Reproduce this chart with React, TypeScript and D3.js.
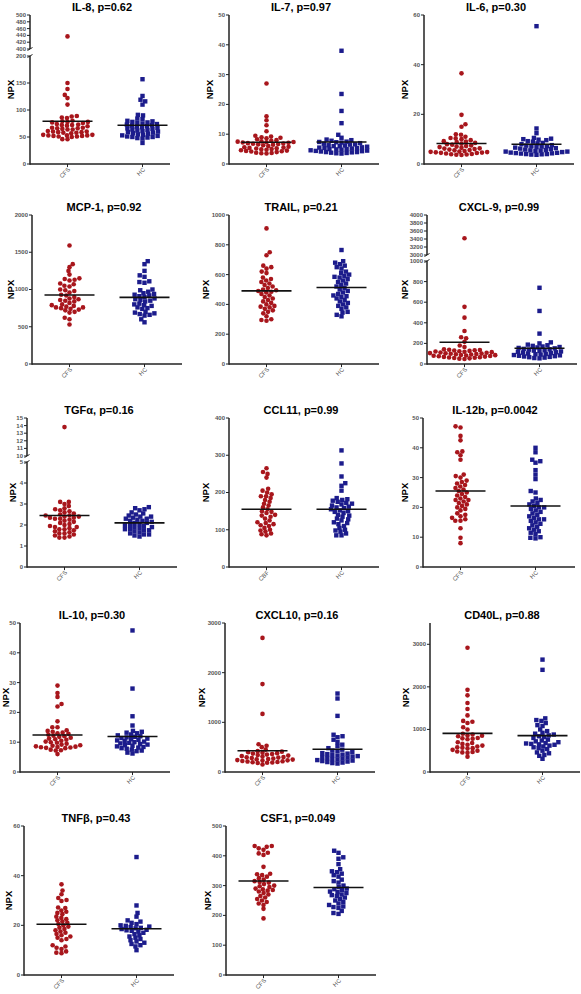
import React from 'react';
import * as d3 from 'd3';

const groups = ['CFS', 'HC'];

// ---- data (NPX values) ----
const il8CFS = [437, 150, 139, 128, 122, 110, 89, 88, 86, 85, 80, 79, 78, 78, 77, 76, 74, 73, 72, 72, 71, 70, 67, 67, 66, 66, 65, 64, 64, 61, 60, 60, 59, 59, 58, 58, 57, 54, 54, 53, 53, 53, 52, 52, 51, 51, 50, 46, 46];
const il8HC = [157, 126, 119, 116, 110, 91, 90, 84, 83, 80, 79, 78, 77, 76, 75, 74, 73, 72, 71, 70, 69, 68, 67, 66, 65, 64, 63, 62, 61, 60, 59, 58, 57, 56, 55, 54, 53, 52, 51, 50, 50, 49, 48, 47, 39];
const il7CFS = [27, 16, 14.7, 13, 11, 9.5, 9.2, 9, 8.8, 8.6, 8.3, 8, 7.8, 7.6, 7.5, 7.4, 7.3, 7.2, 7.1, 7, 6.9, 6.8, 6.7, 6.6, 6.5, 6.3, 6.0, 5.8, 5.6, 5.5, 5.4, 5.3, 5.2, 5.0, 4.9, 4.8, 4.6, 4.5, 4.4, 4.3, 4.2, 4.0, 3.8, 3.7, 3.6, 3.5];
const il7HC = [38, 23.5, 17.8, 13.7, 9.8, 8.8, 8.2, 8, 7.8, 7.5, 7.4, 7.3, 7.2, 7, 6.8, 6.6, 6.5, 6.3, 6.2, 6, 6, 5.8, 5.6, 5.5, 5.4, 5.3, 5.2, 5, 5, 4.9, 4.8, 4.6, 4.5, 4.4, 4.3, 4.2, 4, 4, 3.9, 3.8, 3.7, 3.6, 3.5];
const il6CFS = [36.5, 19.8, 16, 15, 12, 11.8, 11, 10.5, 10.3, 10, 9.6, 9.2, 9, 8.8, 8.5, 8.2, 8, 7.8, 7.5, 7.2, 7, 6.8, 6.5, 6.3, 6.2, 6, 5.8, 5.6, 5.5, 5.2, 5, 4.9, 4.8, 4.7, 4.6, 4.5, 4.4, 4.2, 4, 3.9, 3.8, 3.7, 3.6];
const il6HC = [55.5, 14.3, 12.4, 10.5, 10.2, 10, 9.8, 9.6, 9.2, 9, 8.5, 8.3, 8, 7.6, 7.4, 7.2, 7.1, 7, 6.8, 6.6, 6.4, 6.2, 6, 5.8, 5.6, 5.5, 5.4, 5.2, 5, 5, 4.8, 4.6, 4.5, 4.4, 4.3, 4.2, 4, 4, 3.9, 3.8, 3.7];
const mcp1CFS = [1590, 1340, 1300, 1250, 1200, 1150, 1140, 1130, 1120, 1080, 1070, 1050, 1040, 1000, 990, 980, 960, 930, 920, 900, 880, 870, 860, 850, 840, 820, 800, 790, 780, 770, 760, 760, 750, 740, 730, 720, 700, 690, 620, 600, 530];
const mcp1HC = [1380, 1340, 1250, 1190, 1170, 1110, 1100, 1090, 1000, 990, 970, 950, 940, 930, 920, 910, 900, 880, 870, 860, 850, 840, 810, 800, 790, 780, 760, 750, 740, 700, 690, 680, 670, 660, 650, 600, 560];
const trailCFS = [910, 750, 730, 660, 650, 640, 620, 610, 580, 570, 560, 550, 540, 530, 520, 510, 500, 495, 490, 485, 480, 470, 460, 450, 440, 430, 420, 410, 400, 390, 385, 380, 370, 360, 350, 340, 320, 300, 295, 290];
const trailHC = [765, 690, 680, 670, 660, 650, 640, 620, 610, 600, 590, 585, 580, 570, 560, 550, 540, 530, 520, 510, 500, 490, 480, 470, 460, 455, 450, 440, 430, 420, 410, 400, 390, 380, 370, 350, 345, 330, 320];
const cxcl9CFS = [3420, 555, 450, 320, 260, 250, 215, 180, 165, 142, 138, 136, 133, 131, 127, 124, 122, 118, 115, 112, 109, 106, 104, 101, 99, 97, 95, 92, 88, 86, 83, 80, 78, 75, 72, 69, 66, 63, 61, 58, 55, 52, 48];
const cxcl9HC = [740, 515, 295, 210, 200, 188, 182, 176, 170, 165, 161, 156, 152, 147, 143, 139, 134, 130, 127, 122, 118, 114, 110, 106, 102, 98, 95, 91, 87, 84, 80, 76, 73, 69, 66, 62, 58, 55];
const tgfaCFS = [13.8, 3.1, 3.1, 3.0, 2.9, 2.8, 2.75, 2.7, 2.65, 2.6, 2.55, 2.5, 2.45, 2.45, 2.4, 2.4, 2.35, 2.35, 2.3, 2.3, 2.25, 2.2, 2.15, 2.1, 2.05, 2.0, 1.95, 1.9, 1.9, 1.85, 1.8, 1.8, 1.75, 1.7, 1.65, 1.6, 1.6, 1.55, 1.5, 1.45, 1.4, 1.4];
const tgfaHC = [2.85, 2.8, 2.75, 2.7, 2.6, 2.55, 2.5, 2.45, 2.4, 2.4, 2.35, 2.3, 2.3, 2.25, 2.2, 2.2, 2.15, 2.1, 2.1, 2.05, 2.0, 2.0, 1.95, 1.9, 1.9, 1.85, 1.8, 1.8, 1.75, 1.75, 1.7, 1.65, 1.6, 1.55, 1.55, 1.5, 1.45];
const ccl11CFS = [265, 255, 250, 240, 210, 205, 200, 195, 190, 190, 185, 180, 175, 170, 165, 160, 155, 150, 148, 145, 140, 138, 135, 130, 125, 120, 118, 115, 112, 110, 105, 100, 98, 95, 90, 88, 85];
const ccl11HC = [313, 278, 243, 225, 218, 205, 185, 182, 180, 178, 175, 172, 170, 168, 165, 162, 160, 158, 155, 152, 150, 148, 145, 140, 138, 135, 130, 128, 125, 120, 118, 115, 110, 105, 100, 98, 95, 90, 85, 85];
const il12bCFS = [47.2, 46.8, 44, 42.5, 38.8, 38.5, 37.5, 36, 31, 30.5, 30, 29, 28.5, 28, 27.5, 27, 26.5, 26, 25.5, 25, 24.5, 24, 23.5, 23, 22.5, 22.5, 22, 21.5, 21, 20.5, 20, 19.5, 19, 18, 17.5, 17, 16.5, 16, 15.5, 15.5, 13, 9.8, 8];
const il12bHC = [40, 38.5, 36, 35.5, 35, 32.5, 31, 29.5, 25.5, 25, 23, 22.5, 22, 21.5, 21, 20.5, 20, 20, 19.5, 19, 18.5, 18, 17.5, 17, 16.5, 16, 16, 15.5, 15, 14.5, 14, 13.5, 13, 12.5, 12, 11.5, 11, 10, 9.8, 9.6];
const il10CFS = [29, 26.5, 25.2, 22.8, 22, 17, 15, 15, 14, 13.8, 13.5, 13.2, 13, 12.8, 12.5, 12.2, 12, 11.8, 11.5, 11.2, 11, 10.8, 10.5, 10.2, 10, 9.8, 9.5, 9.2, 9, 8.8, 8.6, 8.5, 8.4, 8.3, 8.2, 8.1, 8, 7.5, 7.3, 7.2, 6];
const il10HC = [47.5, 28, 18.7, 15.6, 13.8, 13.5, 13.2, 13, 12.6, 12.3, 12, 11.8, 11.6, 11.4, 11.2, 11, 10.8, 10.6, 10.4, 10.2, 10, 9.8, 9.6, 9.4, 9.2, 9, 8.8, 8.6, 8.4, 8.2, 8, 7.8, 7.5, 7.2, 7, 6.5, 6.2];
const cxcl10CFS = [2700, 1770, 1170, 560, 530, 500, 450, 420, 410, 400, 390, 380, 370, 360, 350, 340, 330, 320, 310, 300, 295, 290, 280, 270, 260, 255, 250, 240, 235, 230, 220, 215, 210, 200, 195, 190, 185, 180, 150];
const cxcl10HC = [1580, 1480, 1130, 750, 720, 700, 650, 600, 550, 520, 480, 450, 430, 420, 400, 380, 370, 360, 350, 340, 330, 320, 310, 300, 290, 280, 270, 260, 250, 240, 230, 220, 210, 200, 190, 180, 170];
const cd40lCFS = [2920, 1930, 1800, 1620, 1480, 1330, 1200, 1180, 1150, 1050, 1000, 900, 880, 860, 850, 840, 800, 790, 780, 770, 700, 680, 660, 640, 620, 600, 580, 570, 560, 550, 520, 500, 480, 470, 460, 450, 360];
const cd40lHC = [2640, 2400, 1260, 1220, 1200, 1150, 1100, 1080, 1000, 960, 920, 900, 880, 860, 840, 820, 800, 760, 740, 720, 700, 680, 670, 660, 650, 640, 620, 600, 580, 560, 540, 500, 460, 440, 400, 380, 310];
const tnfbCFS = [36.5, 34, 32.5, 31, 30.2, 29.8, 27.2, 27, 26, 25.5, 25, 24.5, 23.5, 23, 22.5, 22, 21.5, 21, 20.5, 20, 19.5, 19, 18.5, 18, 17.5, 17, 16.5, 16, 15.5, 15, 14.5, 14, 12, 11.5, 11, 10.5, 9.5, 9, 8.8];
const tnfbHC = [47.5, 28, 25, 23.5, 22, 21.5, 21, 20.5, 20, 19.8, 19.5, 19.3, 19, 18.8, 18.5, 18.2, 18, 17.8, 17.5, 17, 16.5, 16, 15.5, 15, 14.5, 14, 13.5, 13, 12.5, 12, 11.5, 10];
const csf1CFS = [433, 433, 430, 425, 420, 410, 408, 403, 363, 340, 338, 335, 330, 325, 320, 315, 312, 310, 305, 300, 298, 295, 290, 288, 285, 283, 280, 275, 270, 265, 260, 255, 250, 245, 240, 235, 222, 190];
const csf1HC = [417, 410, 395, 390, 372, 355, 348, 345, 340, 335, 330, 320, 315, 310, 300, 295, 290, 288, 285, 280, 278, 275, 270, 268, 265, 260, 255, 250, 245, 240, 235, 230, 228, 225, 215, 208, 205];

// ---- tick values ----
const t0_200 = [0, 50, 100, 150, 200];
const t400_500 = [400, 420, 440, 460, 480, 500];
const t0_50 = [0, 10, 20, 30, 40, 50];
const t0_60 = [0, 20, 40, 60];
const t0_2000 = [0, 500, 1000, 1500, 2000];
const t0_1000 = [0, 200, 400, 600, 800, 1000];
const t3000_4000 = [3000, 3200, 3400, 3600, 3800, 4000];
const t0_5 = [0, 1, 2, 3, 4, 5];
const t10_15 = [10, 11, 12, 13, 14, 15];
const t0_400 = [0, 100, 200, 300, 400];
const t0_3000 = [0, 1000, 2000, 3000];
const t0_500 = [0, 100, 200, 300, 400, 500];

// ---- layout ----
const W = 581, HGT = 994;
const rowTops = [15, 215, 418, 623, 826];
const PH = 149;
const RED = '#a8161c';
const BLUE = '#1c1c8c';
const FONT = 'Liberation Sans, Arial, Helvetica, sans-serif';

type Seg = { domain: [number, number]; range: [number, number]; ticks: number[] };
type Panel = { title: string; cfs: number[]; hc: number[]; row: number; axisX: number; npxX: number; width: number; segs: Seg[]; xl?: string[] };

const full = (domain: [number, number], ticks: number[]): Seg[] => [{ domain, range: [PH, 0], ticks }];

const panels: Panel[] = [
  { title: 'IL-8, p=0.62', cfs: il8CFS, hc: il8HC, row: 0, axisX: 30, npxX: 14, width: 140,
    segs: [{ domain: [0, 200], range: [PH, 41], ticks: t0_200 }, { domain: [400, 500], range: [34, 0], ticks: t400_500 }] },
  { title: 'IL-7, p=0.97', cfs: il7CFS, hc: il7HC, row: 0, axisX: 229, npxX: 213, width: 150, segs: full([0, 50], t0_50) },
  { title: 'IL-6, p=0.30', cfs: il6CFS, hc: il6HC, row: 0, axisX: 424, npxX: 408, width: 150, segs: full([0, 60], t0_60) },
  { title: 'MCP-1, p=0.92', cfs: mcp1CFS, hc: mcp1HC, row: 1, axisX: 32, npxX: 14, width: 150, segs: full([0, 2000], t0_2000) },
  { title: 'TRAIL, p=0.21', cfs: trailCFS, hc: trailHC, row: 1, axisX: 229, npxX: 209, width: 150, segs: full([0, 1000], t0_1000) },
  { title: 'CXCL-9, p=0.99', cfs: cxcl9CFS, hc: cxcl9HC, row: 1, axisX: 427, npxX: 408, width: 150,
    segs: [{ domain: [0, 1000], range: [PH, 46], ticks: t0_1000 }, { domain: [3000, 4000], range: [40, 0], ticks: t3000_4000 }] },
  { title: 'TGFα, p=0.16', cfs: tgfaCFS, hc: tgfaHC, row: 2, axisX: 27, npxX: 16, width: 150,
    segs: [{ domain: [0, 5], range: [PH, 44], ticks: t0_5 }, { domain: [10, 15], range: [38, 0], ticks: t10_15 }] },
  { title: 'CCL11, p=0.99', cfs: ccl11CFS, hc: ccl11HC, row: 2, axisX: 229, npxX: 209, width: 150, segs: full([0, 400], t0_400), xl: ['CBF', 'HC'] },
  { title: 'IL-12b, p=0.0042', cfs: il12bCFS, hc: il12bHC, row: 2, axisX: 423, npxX: 408, width: 152, segs: full([0, 50], t0_50) },
  { title: 'IL-10, p=0.30', cfs: il10CFS, hc: il10HC, row: 3, axisX: 20, npxX: 9, width: 150, segs: full([0, 50], t0_50) },
  { title: 'CXCL10, p=0.16', cfs: cxcl10CFS, hc: cxcl10HC, row: 3, axisX: 225, npxX: 205, width: 150, segs: full([0, 3000], t0_3000) },
  { title: 'CD40L, p=0.88', cfs: cd40lCFS, hc: cd40lHC, row: 3, axisX: 430, npxX: 409, width: 150, segs: full([0, 3500], t0_3000) },
  { title: 'TNFβ, p=0.43', cfs: tnfbCFS, hc: tnfbHC, row: 4, axisX: 24, npxX: 12, width: 150, segs: full([0, 60], t0_60) },
  { title: 'CSF1, p=0.049', cfs: csf1CFS, hc: csf1HC, row: 4, axisX: 226, npxX: 211, width: 150, segs: full([0, 500], t0_500) },
];

function makeY(segs: Seg[], top: number) {
  const scales = segs.map(s => ({ s, sc: d3.scaleLinear().domain(s.domain).range([top + s.range[0], top + s.range[1]]) }));
  return (v: number) => {
    const hit = scales.find(o => v >= o.s.domain[0] && v <= o.s.domain[1]) || scales[0];
    return hit.sc(v);
  };
}

// collision-based beeswarm with an elliptical footprint (wider than tall),
// so points spread into GraphPad-like staggered rows
function swarm(vals: number[], y: (v: number) => number, cx: number, rx = 5.2, ry = 3.8) {
  const pts = vals.map(v => ({ v, py: y(v), ox: 0 })).sort((a, b) => b.py - a.py);
  const placed: { v: number; py: number; ox: number }[] = [];
  let flip = false;
  for (const p of pts) {
    const blocked: [number, number][] = [];
    for (const q of placed) {
      const dy = Math.abs(q.py - p.py);
      if (dy < ry) {
        const w = rx * Math.sqrt(1 - (dy / ry) * (dy / ry));
        blocked.push([q.ox - w, q.ox + w]);
      }
    }
    const cands = [0];
    blocked.forEach(([a, b]) => cands.push(a, b));
    const ok = cands.filter(c => blocked.every(([a, b]) => c <= a + 1e-6 || c >= b - 1e-6));
    ok.sort((a, b) => {
      const diff = Math.abs(a) - Math.abs(b);
      if (Math.abs(diff) > 0.05) return diff;
      return flip ? b - a : a - b;
    });
    p.ox = ok[0];
    if (Math.abs(p.ox) > 0.05) flip = !flip;
    placed.push(p);
  }
  return placed.map(p => ({ ...p, px: cx + p.ox }));
}

function PanelView({ p }: { p: Panel }) {
  const top = rowTops[p.row];
  const bottom = top + PH;
  const y = makeY(p.segs, top);
  const ax = p.axisX;
  const xs = d3.scalePoint<string>().domain(groups).range([ax + 37.5, ax + 112.5]);
  const labels = p.xl || groups;
  const series = [p.cfs, p.hc];
  return (
    <g>
      <text x={ax + 72} y={top - 4} textAnchor="middle" fontFamily={FONT} fontWeight="bold" fontSize={11}>{p.title}</text>
      <text transform={`translate(${p.npxX},${top + PH / 2}) rotate(-90)`} textAnchor="middle" fontFamily={FONT} fontWeight="bold" fontSize={9.5}>NPX</text>
      {p.segs.map((s, si) => {
        const sc = d3.scaleLinear().domain(s.domain).range([top + s.range[0], top + s.range[1]]);
        const y0 = top + s.range[0], y1 = top + s.range[1];
        return (
          <g key={si}>
            <line x1={ax} x2={ax} y1={y0 + (si === 0 ? 0.75 : 0)} y2={y1} stroke="#222" strokeWidth={1.5} />
            {s.ticks.map(t => (
              <g key={t}>
                <line x1={ax - 3} x2={ax} y1={sc(t)} y2={sc(t)} stroke="#222" strokeWidth={1} />
                <text x={ax - 4} y={sc(t)} dy="0.33em" textAnchor="end" fontFamily={FONT} fontSize={6} fontWeight="bold" fill="#555">{t}</text>
              </g>
            ))}
            {p.segs.length > 1 && si === 0 && (
              <line x1={ax - 2.5} x2={ax + 2.5} y1={y1 + 1.5} y2={y1 - 1.5} stroke="#222" strokeWidth={1} />
            )}
            {p.segs.length > 1 && si === 1 && (
              <line x1={ax - 2.5} x2={ax + 2.5} y1={y0 + 1.5} y2={y0 - 1.5} stroke="#222" strokeWidth={1} />
            )}
          </g>
        );
      })}
      <line x1={ax} x2={ax + p.width} y1={bottom} y2={bottom} stroke="#222" strokeWidth={1.5} />
      {groups.map((g, gi) => {
        const cx = xs(g)!;
        return (
          <g key={g}>
            <line x1={cx} x2={cx} y1={bottom} y2={bottom + 3} stroke="#222" strokeWidth={1} />
            <text transform={`translate(${cx + 3},${bottom + 6}) rotate(-45)`} textAnchor="end" fontFamily={FONT} fontSize={6} fill="#555">{labels[gi]}</text>
          </g>
        );
      })}
      {series.map((vals, gi) => {
        const cx = xs(groups[gi])!;
        const pts = swarm(vals, y, cx);
        const m = d3.mean(vals)!;
        return (
          <g key={gi}>
            {pts.map((pt, i) => gi === 0
              ? <circle key={i} cx={pt.px} cy={pt.py} r={2.3} fill={RED} />
              : <rect key={i} x={pt.px - 2.2} y={pt.py - 2.2} width={4.4} height={4.4} fill={BLUE} />)}
            <line x1={cx - 25} x2={cx + 25} y1={y(m)} y2={y(m)} stroke="#111" strokeWidth={1.6} />
          </g>
        );
      })}
    </g>
  );
}

export default function App() {
  return (
    <svg width={W} height={HGT} style={{ position: 'absolute', left: 0, top: 0, background: '#fff' }}>
      <rect width={W} height={HGT} fill="#fff" />
      {panels.map((p, i) => <PanelView key={i} p={p} />)}
    </svg>
  );
}
